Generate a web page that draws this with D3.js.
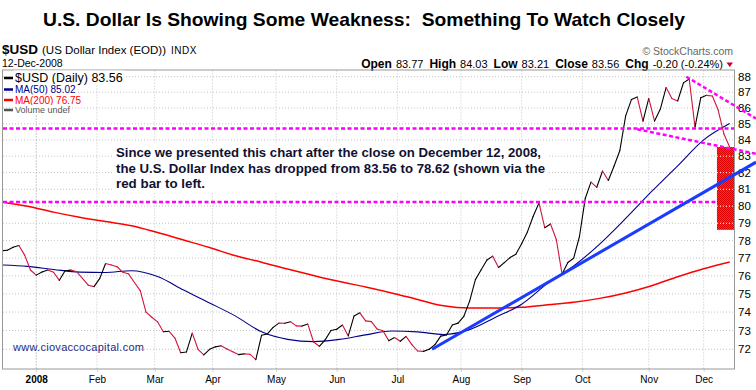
<!DOCTYPE html>
<html>
<head>
<meta charset="utf-8">
<script src="https://cdn.jsdelivr.net/npm/d3@7"></script>
<style>
  body { margin: 0; background: #fff; }
  svg { display: block; font-family: "Liberation Sans", Arial, sans-serif; }
</style>
</head>
<body>
<div id="chart"></div>
<script>
// trading calendar (weekdays minus market holidays)
const startDate = "2007-12-13", endDate = "2008-12-12";
const holidays = ["2007-12-25", "2008-01-01", "2008-01-21", "2008-02-18", "2008-03-21",
  "2008-05-26", "2008-07-04", "2008-09-01", "2008-11-27"];

// $USD close, read every 2nd trading day
const priceStep = 2;
const price = [
  77.42, 77.45, 77.62, 77.72, 77.17, 76.33, 76.04, 76.21, 76.33, 76.20,
  75.75, 76.29, 76.32, 76.23, 75.86, 75.48, 75.40, 75.86, 76.69, 76.61,
  76.51, 76.20, 76.10, 75.63, 75.18, 74.00, 73.72, 73.47, 72.94, 72.96,
  72.60, 71.82, 71.86, 72.86, 72.00, 71.70, 72.00, 72.13, 72.19, 72.02,
  71.87, 71.72, 71.76, 71.74, 71.45, 72.75, 72.82, 73.17, 73.40, 73.39,
  73.48, 73.25, 73.24, 73.35, 72.39, 72.16, 72.50, 73.00, 73.07, 73.30,
  72.71, 73.79, 73.96, 73.52, 73.48, 73.08, 72.99, 72.46, 72.63, 72.43,
  72.69, 72.25, 71.91, 71.89, 72.00, 72.25, 72.70, 72.76, 73.30, 73.40,
  73.77, 74.60, 75.79, 76.34, 76.89, 77.11, 76.47, 76.74, 77.03, 77.22,
  77.82, 78.50, 79.41, 80.19, 78.74, 78.96, 78.06, 76.10, 76.75, 76.99,
  78.22, 80.45, 81.43, 81.12, 82.10, 81.53, 82.40, 83.35, 85.50, 86.53,
  86.70, 85.17, 86.60, 85.17, 85.93, 87.30, 86.60, 86.44, 87.60, 87.85,
  84.80, 86.65, 86.80, 86.76, 85.88, 84.37, 83.56
];

// moving averages, read every 9th trading day
const maStep = 9;
const ma50 = [76.61, 76.53, 76.36, 76.21, 76.19, 76.29, 75.96, 75.21, 74.50, 73.78,
  72.93, 72.53, 72.41, 72.53, 72.77, 72.98, 72.93, 72.79, 73.05, 73.72,
  74.43, 75.58, 76.55, 77.80, 79.28, 80.87, 82.41, 84.00, 85.02];
const ma200 = [80.25, 80.00, 79.65, 79.35, 79.10, 78.86, 78.46, 78.03, 77.60, 77.13,
  76.77, 76.38, 76.02, 75.68, 75.38, 75.05, 74.69, 74.34, 74.22, 74.22,
  74.26, 74.40, 74.54, 74.75, 75.05, 75.45, 75.95, 76.40, 76.78];

const yTicks = d3.range(72, 89);
const monthLabels = ["2008", "Feb", "Mar", "Apr", "May", "Jun", "Jul", "Aug", "Sep", "Oct", "Nov", "Dec"];

// annotations: [trading day index, value]
const hLevels = [84.7, 80.25];
const upperTrend = [[237, 88.0], [252, 86.33]];
const lowerTrend = [[220, 84.66], [252, 83.48]];
const blueTrend = [[149, 72.0], [193, 76.0]];
const dropBar = { from: 247.6, top: 83.56, bottom: 78.62 };

const W = 756, H = 390;
const plot = { left: 3, right: 734, top: 70.5, bottom: 368.5 };

const hol = new Set(holidays);
const fmt = d3.utcFormat("%Y-%m-%d");
const days = d3.utcDays(new Date(startDate), d3.utcDay.offset(new Date(endDate), 1))
  .filter(d => d.getUTCDay() % 6 !== 0 && !hol.has(fmt(d)));
const monthIdx = days.map((d, i) => i).filter(i => i > 0 && days[i].getUTCMonth() !== days[i - 1].getUTCMonth());

const x = d3.scaleLinear().domain([0.5, days.length + 0.5]).range([plot.left, plot.right]);
const y = d3.scaleLog().domain([72, 88]).range([349.3, 76.7]);

const svg = d3.select("#chart").append("svg").attr("width", W).attr("height", H);
svg.append("rect").attr("width", W).attr("height", H).attr("fill", "#fff");

const defs = svg.append("defs");
defs.append("clipPath").attr("id", "plotClip").append("rect")
  .attr("x", plot.left).attr("y", plot.top)
  .attr("width", plot.right - plot.left).attr("height", plot.bottom - plot.top);
const pat = defs.append("pattern").attr("id", "dither")
  .attr("width", 2).attr("height", 2).attr("patternUnits", "userSpaceOnUse");
pat.append("rect").attr("width", 2).attr("height", 2).attr("fill", "#ff2b2b");
pat.append("rect").attr("width", 1).attr("height", 1).attr("fill", "#dd0000");
pat.append("rect").attr("x", 1).attr("y", 1).attr("width", 1).attr("height", 1).attr("fill", "#dd0000");

// title
svg.append("text").attr("x", 43).attr("y", 26)
  .attr("font-size", 19).attr("font-weight", "bold").style("white-space", "pre")
  .attr("textLength", 642).attr("lengthAdjust", "spacingAndGlyphs")
  .text("U.S. Dollar Is Showing Some Weakness:  Something To Watch Closely");

// header
const hdr = svg.append("text").attr("x", 2).attr("y", 54);
hdr.append("tspan").attr("font-size", 13.5).attr("font-weight", "bold").text("$USD");
hdr.append("tspan").attr("font-size", 11.5).attr("dx", 4).text("(US Dollar Index (EOD))");
hdr.append("tspan").attr("font-size", 10).attr("dx", 5).attr("letter-spacing", 0.5).text("INDX");
svg.append("text").attr("x", 2).attr("y", 66.5).attr("font-size", 10.5).text("12-Dec-2008");
svg.append("text").attr("x", 733).attr("y", 55).attr("text-anchor", "end")
  .attr("font-size", 10.5).attr("fill", "#666").text("\u00a9 StockCharts.com");

const ohlc = svg.append("text").attr("x", 723).attr("y", 67.5).attr("text-anchor", "end");
[["Open", "83.77"], ["High", "84.03"], ["Low", "83.21"], ["Close", "83.56"], ["Chg", "-0.20 (-0.24%)"]]
  .forEach(([k, v], i) => {
    ohlc.append("tspan").attr("font-size", 12).attr("font-weight", "bold").attr("dx", i ? 6 : 0).text(k);
    ohlc.append("tspan").attr("font-size", 11).attr("dx", 4).text(v);
  });
svg.append("path").attr("d", "M726.5,62.5 L733,62.5 L729.75,67 Z").attr("fill", "#cc0033");

// grid
const grid = svg.append("g");
grid.selectAll("line.h").data(yTicks).join("line").attr("class", "h")
  .attr("x1", plot.left).attr("x2", plot.right)
  .attr("y1", d => y(d)).attr("y2", d => y(d))
  .attr("stroke", "#c4c4c4").attr("stroke-dasharray", "1,2");
grid.selectAll("line.v").data(monthIdx).join("line").attr("class", "v")
  .attr("x1", d => x(d)).attr("x2", d => x(d))
  .attr("y1", plot.top).attr("y2", plot.bottom)
  .attr("stroke", (d, i) => i === 0 ? "#999" : "#c4c4c4").attr("stroke-dasharray", "1,2");

svg.append("rect").attr("x", plot.left - 0.5).attr("y", plot.top - 0.5)
  .attr("width", plot.right - plot.left + 1).attr("height", plot.bottom - plot.top + 1)
  .attr("fill", "none").attr("stroke", "#999");

// axes
const yAxis = svg.append("g").attr("transform", `translate(${plot.right},0)`)
  .call(d3.axisRight(y).tickValues(yTicks).tickSize(0).tickPadding(4).tickFormat(d3.format("d")));
yAxis.select(".domain").remove();
yAxis.attr("font-family", null).attr("font-size", 11.5);

const xAxis = svg.append("g").attr("transform", `translate(0,${plot.bottom})`)
  .call(d3.axisBottom(x).tickValues(monthIdx).tickSize(4).tickPadding(3)
    .tickFormat((d, i) => monthLabels[i]));
xAxis.select(".domain").remove();
xAxis.attr("font-family", null).attr("font-size", 10);
xAxis.selectAll(".tick line").attr("stroke", "#aaa").attr("stroke-dasharray", "1,1");
xAxis.selectAll(".tick text").filter((d, i) => i === 0).attr("font-weight", "bold");

// series
const marks = svg.append("g").attr("clip-path", "url(#plotClip)");
const line = d3.line().x(d => x(d.k)).y(d => y(d.v));
const maLine = d3.line().curve(d3.curveMonotoneX).x(d => x(d.k)).y(d => y(d.v));

marks.append("path").datum(ma200.map((v, i) => ({ k: i * maStep, v })))
  .attr("d", maLine).attr("fill", "none").attr("stroke", "#ff0000").attr("stroke-width", 1.5);
marks.append("path").datum(ma50.map((v, i) => ({ k: i * maStep, v })))
  .attr("d", maLine).attr("fill", "none").attr("stroke", "#00008b").attr("stroke-width", 1.1);

const pts = price.map((v, i) => ({ k: i * priceStep, v }));
marks.selectAll("path.seg").data(d3.pairs(pts)).join("path").attr("class", "seg")
  .attr("d", d => line(d)).attr("fill", "none")
  .attr("stroke", d => d[1].v >= d[0].v ? "#000" : "#d4143c")
  .attr("stroke-width", 1.1).attr("stroke-linecap", "round");

// horizontal support / resistance
svg.selectAll("line.lvl").data(hLevels).join("line").attr("class", "lvl")
  .attr("x1", plot.left).attr("x2", plot.right)
  .attr("y1", d => y(d)).attr("y2", d => y(d))
  .attr("stroke", "#ff00ff").attr("stroke-width", 2.5).attr("stroke-dasharray", "4,2.5");

// drop since publication
svg.append("rect").attr("x", x(dropBar.from)).attr("y", y(dropBar.top))
  .attr("width", plot.right - x(dropBar.from)).attr("height", y(dropBar.bottom) - y(dropBar.top))
  .attr("fill", "url(#dither)");
svg.selectAll("line.bargrid").data(yTicks.filter(t => t > dropBar.bottom && t < dropBar.top)).join("line")
  .attr("class", "bargrid")
  .attr("x1", x(dropBar.from)).attr("x2", plot.right)
  .attr("y1", d => y(d)).attr("y2", d => y(d))
  .attr("stroke", "#fff").attr("stroke-dasharray", "1,2");

// trendlines, extended to the right edge
function trend(anchors) {
  const [a, b] = anchors.map(([k, v]) => [x(k), y(v)]);
  const s = (b[1] - a[1]) / (b[0] - a[0]);
  return [a, [W, a[1] + s * (W - a[0])]];
}
svg.append("path").attr("d", d3.line()(trend(blueTrend)))
  .attr("stroke", "#1a3cff").attr("stroke-width", 3).attr("fill", "none");
[upperTrend, lowerTrend].forEach(t => {
  svg.append("path").attr("d", d3.line()(trend(t)))
    .attr("stroke", "#ff00ff").attr("stroke-width", 2.5).attr("stroke-dasharray", "4,2.5").attr("fill", "none");
});

// legend
function boxed(g, node, pad) {
  const b = node.getBBox();
  g.insert("rect", () => node).attr("x", b.x - pad).attr("y", b.y)
    .attr("width", b.width + pad * 2).attr("height", b.height).attr("fill", "#fff");
}
const leg = svg.append("g");
[
  { t: "$USD (Daily) 83.56", c: "#000", fs: 12.5, yb: 81.5, yl: 78 },
  { t: "MA(50) 85.02", c: "#00008b", fs: 10, yb: 93, yl: 89.5 },
  { t: "MA(200) 76.75", c: "#ff0000", fs: 10, yb: 103.5, yl: 100 },
  { t: "Volume undef", c: "#555", fs: 9, yb: 113, yl: 110 }
].forEach(r => {
  const tx = leg.append("text").attr("x", 15).attr("y", r.yb).attr("font-size", r.fs).attr("fill", r.c).text(r.t);
  boxed(leg, tx.node(), 1);
  leg.append("rect").attr("x", 4).attr("y", r.yl - 1.25).attr("width", 9).attr("height", 2.5).attr("fill", r.c);
});

// commentary
svg.append("rect").attr("x", 113).attr("y", 143).attr("width", 435).attr("height", 50).attr("fill", "#fff");
[
  ["Since we presented this chart after the close on December 12, 2008,", 425, 156.5],
  ["the U.S. Dollar Index has dropped from 83.56 to 78.62 (shown via the", 429, 172.5],
  ["red bar to left.", 89, 187.5]
].forEach(([t, w, yb]) => {
  svg.append("text").attr("x", 116).attr("y", yb).attr("font-size", 13.5).attr("font-weight", "bold")
    .attr("fill", "#111133").attr("textLength", w).attr("lengthAdjust", "spacingAndGlyphs").text(t);
});

svg.append("text").attr("x", 13).attr("y", 351).attr("font-size", 11).attr("fill", "#1f2d86")
  .attr("textLength", 131).attr("lengthAdjust", "spacing").text("www.ciovaccocapital.com");
</script>
</body>
</html>
